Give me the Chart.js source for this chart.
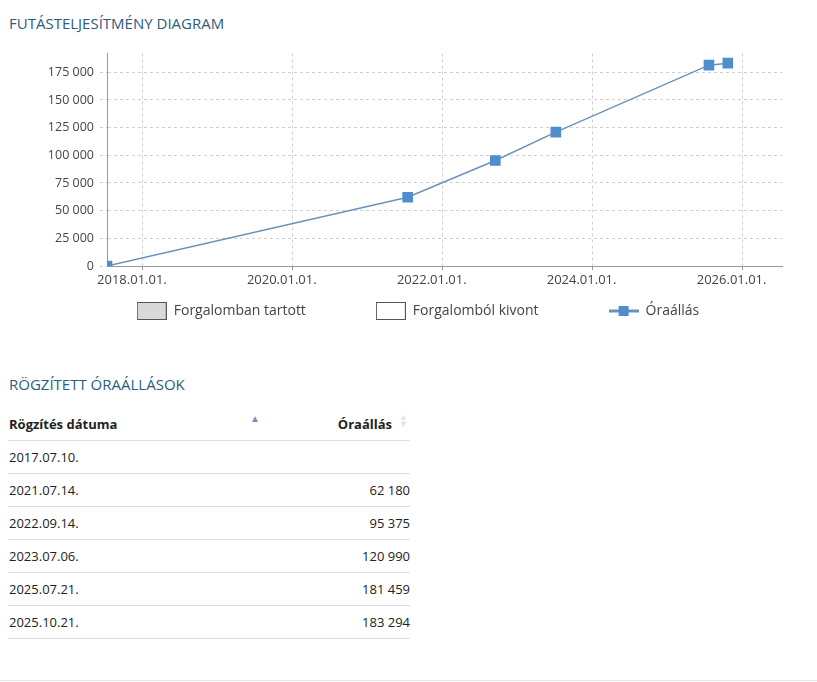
<!DOCTYPE html>
<html lang="hu">
<head>
<meta charset="utf-8">
<title>Futásteljesítmény diagram</title>
<script src="https://cdn.jsdelivr.net/npm/chart.js@4/dist/chart.umd.min.js"></script>
<style>
    html, body { margin: 0; padding: 0; background: #fff; }
    body { width: 817px; height: 682px; position: relative; overflow: hidden; font-family: "Open Sans", sans-serif; color: #222; }
    .cim { position: absolute; left: 9px; font-size: 15px; line-height: 20px; color: #2b5d7d; white-space: nowrap; }
    #diagramCim { top: 13px; }
    #tablaCim { top: 374px; }
    #futasChart { position: absolute; left: 0; top: 40px; }
    table { position: absolute; left: 8px; top: 408px; width: 402px; border-collapse: collapse; font-size: 13px; }
    th { height: 32px; border-bottom: 1px solid #ddd; font-weight: bold; padding: 0; position: relative; vertical-align: middle; }
    td { height: 32px; border-bottom: 1px solid #ddd; padding: 0; vertical-align: middle; }
    th.datum, td.datum { text-align: left; padding-left: 1px; width: 254px; }
    th.ora { text-align: right; padding-right: 18px; }
    td.ora { text-align: right; }
    .rendez { position: absolute; right: 3px; top: 3px; font-size: 10px; color: #8489c2; }
    .rendez2 { position: absolute; right: 2px; top: 5px; font-size: 9px; line-height: 7px; color: #e2e2e2; }
    .lablec { position: absolute; left: 0; top: 680px; width: 817px; border-top: 1px solid #e6e6e6; }
</style>
</head>
<body>
<div class="cim" id="diagramCim">FUTÁSTELJESÍTMÉNY DIAGRAM</div>
<canvas id="futasChart" width="817" height="292"></canvas>
<div class="cim" id="tablaCim">RÖGZÍTETT ÓRAÁLLÁSOK</div>
<table>
    <thead>
        <tr>
            <th class="datum">Rögzítés dátuma<span class="rendez">▲</span></th>
            <th class="ora">Óraállás<span class="rendez2">▲<br>▼</span></th>
        </tr>
    </thead>
    <tbody id="tablaTorzs"></tbody>
</table>
<div class="lablec"></div>

<script>
/* -----------------------------
   ADATOK
----------------------------- */
const rogzitesDatumok = ["2017.07.10.", "2021.07.14.", "2022.09.14.", "2023.07.06.", "2025.07.21.", "2025.10.21."];
const oraallasok = [0, 62180, 95375, 120990, 181459, 183294];
const xTickCimkek = ["2018.01.01.", "2020.01.01.", "2022.01.01.", "2024.01.01.", "2026.01.01."];
const yTickek = [0, 25000, 50000, 75000, 100000, 125000, 150000, 175000];
const jelmagyarazat = ["Forgalomban tartott", "Forgalomból kivont", "Óraállás"];
const xTengelyVege = "2026.07.12.";
const yTengelyMax = 192000;

function datumbol(szoveg) {
    const [ev, ho, nap] = szoveg.split(".");
    return Date.UTC(+ev, +ho - 1, +nap);
}

function ezresek(szam) {
    return String(szam).replace(/\B(?=(\d{3})+(?!\d))/g, " ");
}

/* -----------------------------
   TABLAZAT
----------------------------- */
const torzs = document.getElementById("tablaTorzs");
rogzitesDatumok.forEach((datum, i) => {
    const tr = document.createElement("tr");
    const td1 = document.createElement("td");
    td1.className = "datum";
    td1.innerText = datum;
    const td2 = document.createElement("td");
    td2.className = "ora";
    td2.innerText = oraallasok[i] ? ezresek(oraallasok[i]) : "";
    tr.appendChild(td1);
    tr.appendChild(td2);
    torzs.appendChild(tr);
});

/* -----------------------------
   JELMAGYARAZAT IKONOK
----------------------------- */
function ikon(rajz) {
    const c = document.createElement("canvas");
    c.width = 30;
    c.height = 18;
    rajz(c.getContext("2d"));
    return c;
}

const ikonok = [
    ikon(ctx => {
        ctx.fillStyle = "#d9d9d9";
        ctx.fillRect(0, 0, 30, 18);
        ctx.strokeStyle = "#555";
        ctx.strokeRect(0.5, 0.5, 29, 17);
    }),
    ikon(ctx => {
        ctx.fillStyle = "#fff";
        ctx.fillRect(0, 0, 30, 18);
        ctx.strokeStyle = "#555";
        ctx.strokeRect(0.5, 0.5, 29, 17);
    }),
    ikon(ctx => {
        ctx.strokeStyle = "#6a93bb";
        ctx.lineWidth = 3;
        ctx.beginPath();
        ctx.moveTo(0, 9);
        ctx.lineTo(30, 9);
        ctx.stroke();
        ctx.fillStyle = "#4f8dcc";
        ctx.fillRect(10, 4, 10, 10);
    })
];

/* -----------------------------
   DIAGRAM
----------------------------- */
const legendPadding = 70;

// a jelmagyarazatot a tengely ala, kozepre tolja
const legendIgazitas = {
    id: "legendIgazitas",
    afterLayout(chart) {
        const l = chart.legend;
        l.top = 264 - legendPadding;
        l.bottom = chart.height;
        l.height = l.bottom - l.top;
        l.left = 18;
        l.right = 818;
        l.width = l.right - l.left;
    }
};

Chart.defaults.font.family = "'Open Sans', sans-serif";
Chart.defaults.color = "#444";

new Chart(document.getElementById("futasChart"), {
    type: "line",
    data: {
        datasets: [
            { label: jelmagyarazat[0], data: [] },
            { label: jelmagyarazat[1], data: [] },
            {
                label: jelmagyarazat[2],
                data: rogzitesDatumok.map((d, i) => ({ x: datumbol(d), y: oraallasok[i] })),
                borderColor: "#6a93bb",
                borderWidth: 1.5,
                pointStyle: "rect",
                pointRadius: 7.5,
                pointHoverRadius: 7.5,
                pointBackgroundColor: "#4f8dcc",
                pointBorderWidth: 0,
                tension: 0,
                clip: 0
            }
        ]
    },
    options: {
        responsive: false,
        animation: false,
        layout: { padding: { top: 10, right: 35, left: 0, bottom: 0 } },
        scales: {
            x: {
                type: "linear",
                min: datumbol(rogzitesDatumok[0]),
                max: datumbol(xTengelyVege),
                afterBuildTicks: scale => {
                    scale.ticks = xTickCimkek.map(c => ({ value: datumbol(c) }));
                },
                afterFit: scale => { scale.height = 26; },
                ticks: {
                    callback: (v, i) => xTickCimkek[i],
                    font: { size: 13 },
                    color: "#444",
                    padding: 2,
                    labelOffset: -11,
                    maxRotation: 0,
                    autoSkip: false
                },
                grid: { color: "#d0d0d0", tickLength: 4, tickColor: "#999" },
                border: { color: "#999", width: 1, dash: [3, 3] }
            },
            y: {
                min: 0,
                max: yTengelyMax,
                afterBuildTicks: scale => {
                    scale.ticks = yTickek.map(v => ({ value: v }));
                },
                afterFit: scale => { scale.width = 107; },
                ticks: {
                    callback: v => ezresek(v),
                    font: { size: 12.5 },
                    color: "#444",
                    padding: 6
                },
                grid: { color: "#d0d0d0", tickLength: 7, tickBorderDash: [3, 3] },
                border: { color: "#999", width: 1, dash: [3, 3] }
            }
        },
        plugins: {
            tooltip: { enabled: false },
            legend: {
                position: "bottom",
                maxHeight: 40,
                labels: {
                    usePointStyle: true,
                    pointStyleWidth: 30,
                    boxHeight: 18,
                    padding: legendPadding,
                    color: "#444",
                    font: { size: 14 },
                    generateLabels: chart => chart.data.datasets.map((ds, i) => ({
                        text: ds.label,
                        pointStyle: ikonok[i],
                        datasetIndex: i,
                        hidden: false,
                        lineWidth: 0,
                        fillStyle: "transparent",
                        strokeStyle: "transparent",
                        fontColor: "#444"
                    }))
                },
                onClick: () => {}
            }
        }
    },
    plugins: [legendIgazitas]
});
</script>
</body>
</html>
